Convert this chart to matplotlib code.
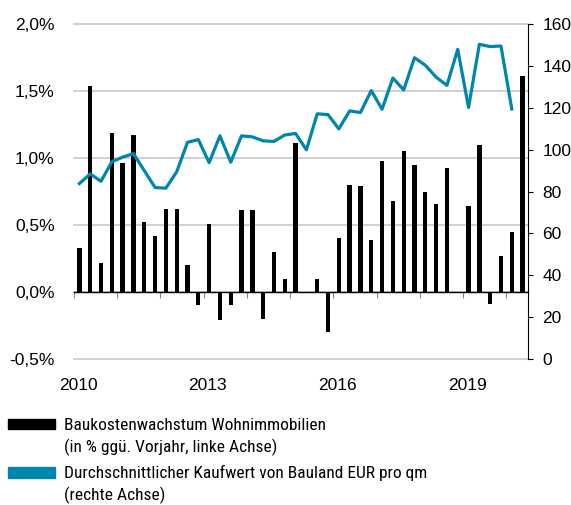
import numpy as np
import matplotlib
matplotlib.use("Agg")
import matplotlib.pyplot as plt
from matplotlib.patches import Rectangle
from matplotlib.transforms import ScaledTranslation

plt.rcParams['font.family'] = ['Liberation Sans', 'DejaVu Sans']

# quarterly data, 2010 Q1 .. 2020 Q2
bar_start = 2010
baukosten = [0.33, 1.54, 0.215, 1.19, 0.96, 1.17, 0.525, 0.42,
             0.62, 0.62, 0.20, -0.10, 0.51, -0.205, -0.10, 0.61,
             0.61, -0.20, 0.30, 0.10, 1.11, np.nan, 0.10, -0.30,
             0.40, 0.80, 0.79, 0.39, 0.975, 0.676, 1.055, 0.948,
             0.75, 0.654, 0.926, np.nan, 0.64, 1.097, -0.09, 0.27,
             0.448, 1.615]
# 2010 Q1 .. 2020 Q1
bauland = [83.8, 88.4, 84.9, 94.2, 96.4, 98.1, 90.0, 81.9,
           81.6, 89.4, 103.5, 104.8, 93.8, 106.6, 94.0, 106.6,
           106.1, 104.2, 103.9, 107.0, 107.7, 99.9, 117.1, 116.7,
           109.9, 118.5, 117.7, 128.2, 119.3, 134.2, 128.5, 143.9,
           140.3, 134.6, 130.7, 147.9, 120.1, 150.3, 149.2, 149.5,
           119.4]
years = list(range(2010, 2021))
year_labels = ['2010', '', '', '2013', '', '', '2016', '', '', '2019', '']
left_ticks = [-0.5, 0.0, 0.5, 1.0, 1.5, 2.0]
right_ticks = [0, 20, 40, 60, 80, 100, 120, 140, 160]

xb = bar_start + (np.arange(len(baukosten)) + 0.5) / 4
xl = bar_start + (np.arange(len(bauland)) + 0.5) / 4

blue = '#0086ad'

fig = plt.figure(figsize=(5.71, 5.05), dpi=100)
ax = fig.add_axes([0.1296, 0.289, 0.7951, 0.6635])
ax.bar(xb, baukosten, width=0.1, color='black', zorder=2)
ax.set_xlim(2010, 2020.5)
ax.set_ylim(-0.5, 2.0)
ax.set_yticks(left_ticks)
ax.set_yticklabels([('%.1f%%' % v).replace('.', ',') for v in left_ticks])
ax.tick_params(axis='y', length=0, pad=14, labelsize=12.5)
ax.yaxis.grid(True, color='#c8c8c8', lw=1.2)
for g in ax.yaxis.get_gridlines():
    g.set_clip_on(False)
ax.set_axisbelow(True)
for s in ['top', 'left', 'right']:
    ax.spines[s].set_visible(False)
ax.spines['bottom'].set_position(('data', 0))
ax.spines['bottom'].set_color('black')
ax.spines['bottom'].set_linewidth(1)
ax.set_xticks(years)
ax.set_xticklabels(year_labels)
ax.tick_params(axis='x', direction='out', length=4, color='#888888',
               pad=58, labelsize=12.5)
for lab in ax.get_xticklabels():
    lab.set_transform(lab.get_transform() + ScaledTranslation(0.04, 0, fig.dpi_scale_trans))

ax2 = ax.twinx()
ax2.plot(xl, bauland, color=blue, lw=2.3, zorder=3)
ax2.set_ylim(0, 160)
ax2.set_yticks(right_ticks)
ax2.tick_params(axis='y', direction='out', length=3.5, color='black',
                labelsize=12.5, pad=7)
for s in ['top', 'left', 'bottom']:
    ax2.spines[s].set_visible(False)
ax2.spines['right'].set_color('black')

# legend, drawn in pixel terms of the figure
W, H = 571.0, 505.0
fig.add_artist(Rectangle((8 / W, 1 - 429 / H), 47 / W, 10 / H,
                         transform=fig.transFigure, color='black'))
fig.add_artist(Rectangle((8 / W, 1 - 478 / H), 47 / W, 11 / H,
                         transform=fig.transFigure, color=blue))
legend_lines = ['Baukostenwachstum Wohnimmobilien',
                '(in % ggü. Vorjahr, linke Achse)',
                'Durchschnittlicher Kaufwert von Bauland EUR pro qm',
                '(rechte Achse)']
baselines = [430, 452, 478, 500]
for txt, yb in zip(legend_lines, baselines):
    fig.text(64 / W, 1 - yb / H, txt, va='baseline', ha='left',
             fontsize=12.5, family=['Roboto Condensed', 'DejaVu Sans'])

fig.savefig('out.png', dpi=100)
